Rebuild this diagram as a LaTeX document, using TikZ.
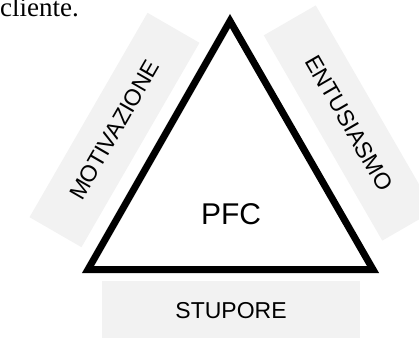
\documentclass[tikz,border=0pt]{standalone}
\usepackage{fontspec}
\setmainfont{Liberation Serif}
\newfontfamily\bandfont{Liberation Sans}
\definecolor{bandgray}{RGB}{242,242,242}

\begin{document}
\begin{tikzpicture}[x=1pt, y=1pt]
    \tikzstyle{band}=[rectangle, fill=bandgray, minimum height=60pt, inner sep=0pt, font=\bandfont\fontsize{23}{26}\selectfont]
    \tikzstyle{side}=[line width=7pt, line join=miter]

      \useasboundingbox (0,0) rectangle (419,337);
      \node[anchor=base west, inner sep=0pt, font=\fontsize{27}{30}\selectfont] (cliente) at (0,320.5) {cliente.};
      \node[band, minimum width=236pt, rotate=60] (motivazione) at (114.5,207) {MOTIVAZIONE};
      \node[band, minimum width=237pt, rotate=-60] (entusiasmo) at (349,214) {ENTUSIASMO};
      \node[band, minimum width=258pt] (stupore) at (231,26) {STUPORE};
      \coordinate (apex) at (230,316);
      \coordinate (left) at (88,67.5);
      \coordinate (right) at (373,67.5);
      \draw[side] (apex) -- (left) -- (right) -- cycle;
      \node[font=\bandfont\fontsize{30}{34}\selectfont] (pfc) at (231,123) {PFC};
    \end{tikzpicture}
\end{document}
